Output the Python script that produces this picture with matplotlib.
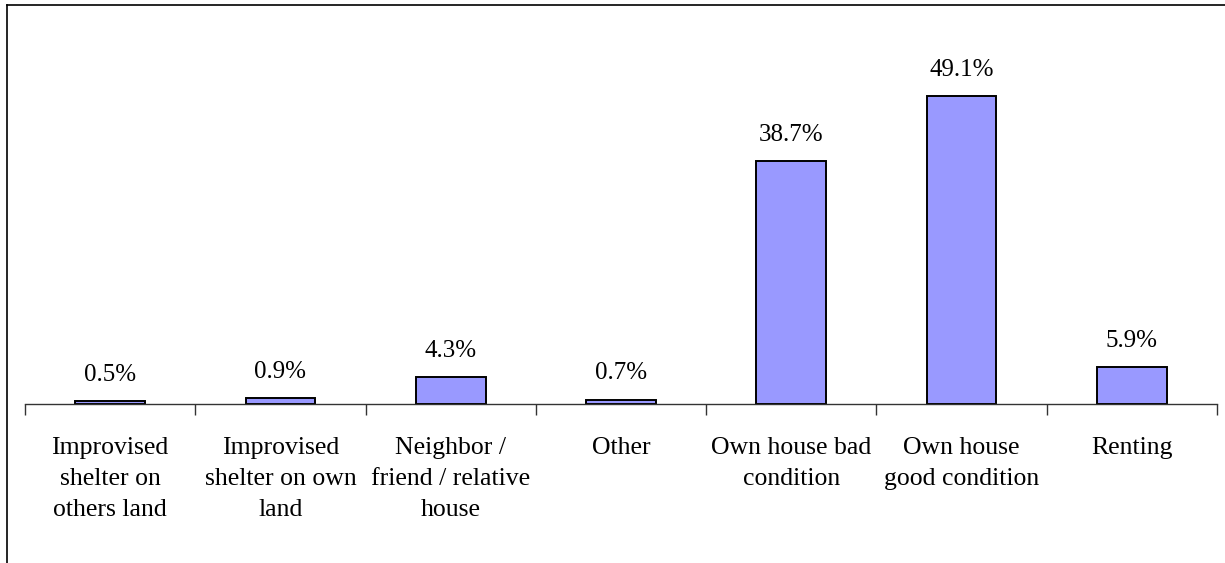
import matplotlib.pyplot as plt
import matplotlib.lines as mlines

# Data
categories = [
    "Improvised\nshelter on\nothers land",
    "Improvised\nshelter on own\nland",
    "Neighbor /\nfriend / relative\nhouse",
    "Other",
    "Own house bad\ncondition",
    "Own house\ngood condition",
    "Renting",
]
values = [0.5, 0.9, 4.3, 0.7, 38.7, 49.1, 5.9]

plt.rcParams['font.family'] = ['Liberation Serif', 'DejaVu Serif']

fig = plt.figure(figsize=(12.25, 5.63), dpi=100)
ax = fig.add_axes([25 / 1225, 1 - 404 / 563, (1217 - 25) / 1225, (404 - 28) / 563])

x = list(range(len(values)))
ax.bar(x, values, width=0.41, color="#9999FF", edgecolor="black", linewidth=1.4)

for xi, v in zip(x, values):
    ax.annotate("%.1f%%" % v, (xi, v), xytext=(0, 11), textcoords="offset points",
                ha="center", va="bottom", fontsize=18)

ax.set_xlim(-0.5, len(values) - 0.5)
ax.set_ylim(0, 60)

ax.set_xticks(x)
ax.set_xticklabels(categories, fontsize=18.5, linespacing=1.52)
ax.tick_params(axis="x", which="major", length=0, pad=24)
ax.set_xticks([i - 0.5 for i in range(len(values) + 1)], minor=True)
ax.tick_params(axis="x", which="minor", length=8, width=1, color="#333333", direction="out")
ax.set_yticks([])

for s in ["top", "right", "left"]:
    ax.spines[s].set_visible(False)
ax.spines["bottom"].set_color("#333333")
ax.spines["bottom"].set_linewidth(1)

# outer chart frame (only left and top edges visible in the reference)
fig.add_artist(mlines.Line2D([7 / 1225, 7 / 1225], [0, 1 - 5 / 563], color="black", linewidth=1.2))
fig.add_artist(mlines.Line2D([7 / 1225, 1], [1 - 5 / 563, 1 - 5 / 563], color="black", linewidth=1.2))

fig.savefig("out.png", dpi=100)
